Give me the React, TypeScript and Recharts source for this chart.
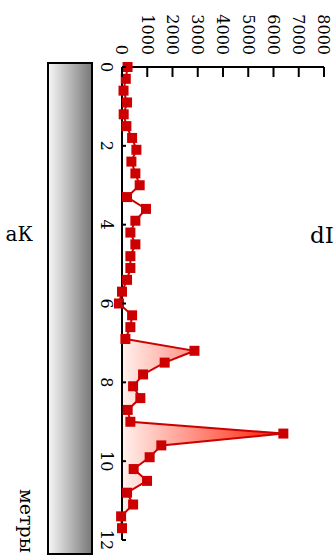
import React from "react";
import { ComposedChart, Line, Area, XAxis, YAxis } from "recharts";

// depth along the well, metres
const meters = [
  0, 0.3, 0.6, 0.9, 1.2, 1.5, 1.8, 2.1, 2.4, 2.7, 3, 3.3, 3.6, 3.9, 4.2, 4.5, 4.8, 5.1, 5.4, 5.7,
  6, 6.3, 6.6, 6.9, 7.2, 7.5, 7.8, 8.1, 8.4, 8.7, 9, 9.3, 9.6, 9.9, 10.2, 10.5, 10.8, 11.1, 11.4, 11.7,
];
// measured signal
const values = [
  220, 150, 60, 200, 67, 174, 400, 570, 372, 530, 700, 200, 950, 530, 332, 530, 332, 332, 200, 0,
  -120, 400, 332, 134, 2870, 1690, 835, 440, 727, 225, 332, 6390, 1557, 1095, 462, 992, 200, 440, -35, 0,
];
// shaded interval (metres)
const shadeStart = 6.9;
const shadeEnd = 11.7;

const meterTicks = [0, 2, 4, 6, 8, 10, 12];
const valueTicks = [0, 1000, 2000, 3000, 4000, 5000, 6000, 7000, 8000];

const xLabel = "метры";
const titleRight = "dI";
const titleLeft = "аК";

const rows = meters.map((m, i) => ({
  m,
  v: values[i],
  shade: m >= shadeStart - 1e-9 && m <= shadeEnd + 1e-9 ? values[i] : null,
}));

const FONT = "DejaVu Serif";
const RED = "#cc0000";

const XTick = (props: any) => {
  const { x, y, payload } = props;
  return (
    <g>
      <line x1={x} y1={y} x2={x} y2={y - 4} stroke="#000" strokeWidth={2} />
      <text x={x} y={y + 10} dy="0.71em" textAnchor="middle" fontFamily={FONT} fontSize={16} fill="#000">
        {payload.value}
      </text>
    </g>
  );
};

const YTick = (props: any) => {
  const { x, y, payload } = props;
  return (
    <g>
      <line x1={x} y1={y} x2={x + 10} y2={y} stroke="#000" strokeWidth={2} />
      <text x={x - 12} y={y} dy="0.355em" textAnchor="end" fontFamily={FONT} fontSize={16} fill="#000">
        {payload.value}
      </text>
    </g>
  );
};

const SquareDot = (props: any) => {
  const { cx, cy, index } = props;
  if (cx == null || cy == null) return <g key={`d${index}`} />;
  return <rect key={`d${index}`} x={cx - 5} y={cy - 5} width={10} height={10} fill={RED} />;
};

export default function App() {
  const W = 558;
  const H = 334;
  return (
    <div
      style={{
        position: "fixed",
        left: 0,
        top: 0,
        width: 334,
        height: 558,
        overflow: "hidden",
        background: "#fff",
      }}
    >
      <style>{`.recharts-line-curve, .recharts-line-dots { clip-path: none !important; }`}</style>
      <div
        style={{
          position: "absolute",
          left: 0,
          top: 0,
          width: W,
          height: H,
          transformOrigin: "0 0",
          transform: `translateX(${H}px) rotate(90deg)`,
        }}
      >
        <svg width={W} height={H} style={{ position: "absolute", left: 0, top: 0 }}>
          <defs>
            <linearGradient id="barGrad" x1="0" y1="0" x2="0" y2="1">
              <stop offset="0" stopColor="#777777" />
              <stop offset="1" stopColor="#f8f8f8" />
            </linearGradient>
          </defs>
          <rect x={63} y={242} width={491} height={44} fill="url(#barGrad)" stroke="#000" strokeWidth={2} />
          <text x={489} y={314} fontFamily={FONT} fontSize={19} fill="#000">
            {xLabel}
          </text>
        </svg>
        <div style={{ position: "absolute", left: 0, top: 0 }}>
          <ComposedChart width={W} height={H} data={rows} margin={{ top: 10, right: 18, bottom: 92, left: 7 }}>
            <defs>
              <linearGradient id="redGrad" x1="0" y1="0" x2="0" y2="1">
                <stop offset="0" stopColor="#ff1a00" />
                <stop offset="1" stopColor="#fff2ee" />
              </linearGradient>
            </defs>
            <XAxis
              type="number"
              dataKey="m"
              domain={[0, 12]}
              ticks={meterTicks}
              height={30}
              tickSize={0}
              tickMargin={0}
              tickLine={false}
              axisLine={{ stroke: "#000", strokeWidth: 2 }}
              tick={<XTick />}
              interval={0}
            />
            <YAxis
              type="number"
              domain={[0, 8000]}
              ticks={valueTicks}
              allowDataOverflow
              width={60}
              tickSize={0}
              tickMargin={0}
              tickLine={false}
              axisLine={{ stroke: "#000", strokeWidth: 2 }}
              tick={<YTick />}
              interval={0}
            />
            <Area
              type="linear"
              dataKey="shade"
              baseValue={0}
              stroke="none"
              fill="url(#redGrad)"
              fillOpacity={1}
              dot={false}
              activeDot={false}
              connectNulls={false}
              isAnimationActive={false}
            />
            <Line
              type="linear"
              dataKey="v"
              stroke={RED}
              strokeWidth={2}
              dot={SquareDot}
              activeDot={false}
              isAnimationActive={false}
            />
          </ComposedChart>
        </div>
      </div>
      <svg width={334} height={558} style={{ position: "absolute", left: 0, top: 0, pointerEvents: "none" }}>
        <text x={310} y={243} fontFamily={FONT} fontSize={23} fill="#000">
          {titleRight}
        </text>
        <text x={33} y={241} textAnchor="end" fontFamily={FONT} fontSize={20} fill="#000">
          {titleLeft}
        </text>
      </svg>
    </div>
  );
}
